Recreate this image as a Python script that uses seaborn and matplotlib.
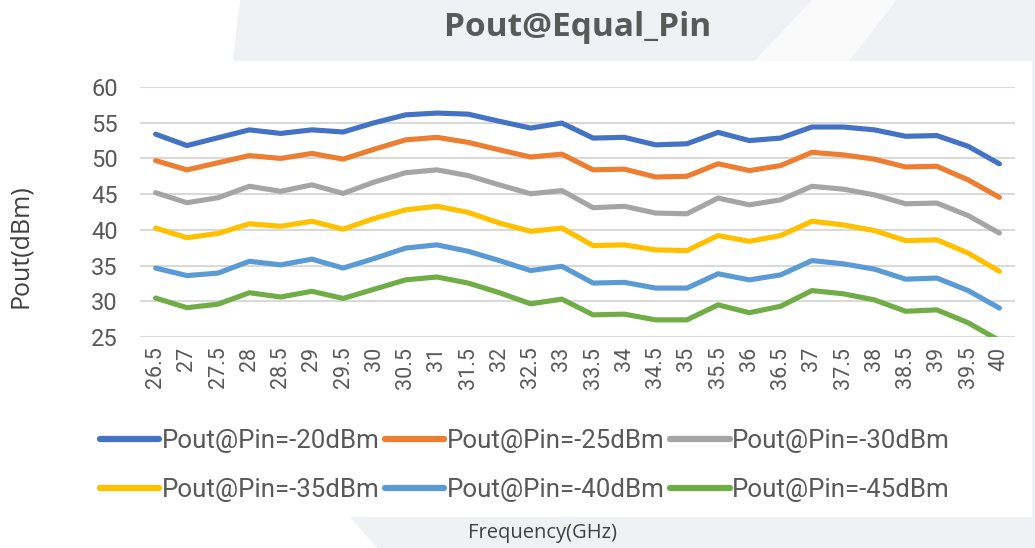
import numpy as np
import pandas as pd
import matplotlib
matplotlib.use("Agg")
import matplotlib.pyplot as plt
from matplotlib.patches import Polygon
import seaborn as sns

freqs = ["26.5", "27", "27.5", "28", "28.5", "29", "29.5", "30", "30.5", "31",
         "31.5", "32", "32.5", "33", "33.5", "34", "34.5", "35", "35.5", "36",
         "36.5", "37", "37.5", "38", "38.5", "39", "39.5", "40"]

pin_20 = [53.4, 51.8, 52.9, 54.0, 53.5, 54.0, 53.7, 55.0, 56.1, 56.35,
          56.2, 55.2, 54.25, 54.95, 52.85, 52.95, 51.9, 52.05, 53.65, 52.5,
          52.85, 54.4, 54.4, 54.0, 53.1, 53.2, 51.7, 49.25]
pin_25 = [49.7, 48.4, 49.4, 50.4, 50.0, 50.7, 49.9, 51.3, 52.6, 52.95,
          52.25, 51.2, 50.2, 50.6, 48.4, 48.5, 47.4, 47.5, 49.25, 48.3,
          49.0, 50.85, 50.5, 49.9, 48.8, 48.9, 47.0, 44.55]
pin_30 = [45.2, 43.8, 44.5, 46.1, 45.4, 46.3, 45.1, 46.7, 48.0, 48.4,
          47.6, 46.3, 45.05, 45.5, 43.1, 43.3, 42.35, 42.25, 44.45, 43.5,
          44.2, 46.1, 45.7, 44.9, 43.65, 43.75, 42.0, 39.55]
pin_35 = [40.25, 38.9, 39.5, 40.85, 40.5, 41.2, 40.1, 41.6, 42.8, 43.3,
          42.45, 40.95, 39.8, 40.25, 37.8, 37.9, 37.2, 37.1, 39.2, 38.4,
          39.2, 41.2, 40.7, 39.9, 38.5, 38.6, 36.75, 34.2]
pin_40 = [34.65, 33.6, 33.95, 35.6, 35.1, 35.9, 34.65, 36.0, 37.45, 37.9,
          37.0, 35.7, 34.3, 34.9, 32.55, 32.65, 31.85, 31.85, 33.85, 33.0,
          33.7, 35.7, 35.25, 34.5, 33.1, 33.25, 31.5, 29.05]
pin_45 = [30.45, 29.1, 29.6, 31.2, 30.6, 31.4, 30.4, 31.7, 33.0, 33.4,
          32.55, 31.2, 29.65, 30.3, 28.1, 28.2, 27.4, 27.4, 29.5, 28.4,
          29.3, 31.5, 31.05, 30.2, 28.6, 28.8, 27.0, 24.5]

series_names = ["Pout@Pin=-20dBm", "Pout@Pin=-25dBm", "Pout@Pin=-30dBm",
                "Pout@Pin=-35dBm", "Pout@Pin=-40dBm", "Pout@Pin=-45dBm"]
series_values = [pin_20, pin_25, pin_30, pin_35, pin_40, pin_45]
colors = ["#4472C4", "#ED7D31", "#A5A5A5", "#FFC000", "#5B9BD5", "#70AD47"]
y_ticks = [25, 30, 35, 40, 45, 50, 55, 60]

rows = []
for name, vals in zip(series_names, series_values):
    for i, v in enumerate(vals):
        rows.append({"idx": i, "Pout": v, "series": name})
df = pd.DataFrame(rows)

sns.set_theme(style="white")
plt.rcParams["font.family"] = ["Roboto", "DejaVu Sans"]

W, H = 1035, 548
fig = plt.figure(figsize=(W / 100, H / 100), dpi=100)
fig.patch.set_facecolor("white")

def fig_poly(pts, color):
    fig.patches.append(Polygon([(x / W, 1 - y / H) for x, y in pts], closed=True,
                               transform=fig.transFigure, facecolor=color,
                               edgecolor="none", zorder=0))

wm = "#f0f1f5"
fig_poly([(240, 0), (1035, 0), (1035, 548), (1032, 548), (1032, 61), (233, 61)], wm)
fig_poly([(812, 0), (897, 0), (849, 61), (754, 61)], "#fafafb")
fig_poly([(350, 517), (1035, 517), (1035, 548), (377, 548)], wm)

ax = fig.add_axes([140 / W, 1 - 337 / H, 875 / W, 250 / H])
ax.set_facecolor("none")

sns.lineplot(data=df, x="idx", y="Pout", hue="series", hue_order=series_names,
             palette=colors, linewidth=3.7, ax=ax, legend=False, sort=False,
             solid_capstyle="round", zorder=3)

ax.set_xlim(-0.5, len(freqs) - 0.5)
ax.set_ylim(25, 60)
ax.set_yticks(y_ticks)
ax.set_yticklabels([str(t) for t in y_ticks], fontsize=17, color="#595959")
ax.set_xticks(range(len(freqs)))
ax.set_xticklabels(freqs, rotation=90, fontsize=15.5, color="#595959")
ax.tick_params(axis="y", length=0, pad=16)
ax.tick_params(axis="x", length=0, pad=7)
ax.grid(axis="y", color="#d9d9d9", linewidth=1.5)
ax.grid(axis="x", visible=False)
for s in ax.spines.values():
    s.set_visible(False)
ax.set_xlabel("")
ax.set_ylabel("")

fig.text(578 / W, 1 - 28 / H, "Pout@Equal_Pin", ha="center", va="center",
         fontsize=24, fontweight="bold", color="#595959", family=["Open Sans", "DejaVu Sans"])
fig.text(20 / W, 1 - 246 / H, "Pout(dBm)", ha="center", va="center", rotation=90,
         fontsize=18, color="#404040", family=["Open Sans", "DejaVu Sans"])
fig.text(543 / W, 1 - 533 / H, "Frequency(GHz)", ha="center", va="center",
         fontsize=14.5, color="#404040", family=["Open Sans", "DejaVu Sans"])

handles = [plt.Line2D([], [], color=c, linewidth=4.5, solid_capstyle="round") for c in colors]
order = [0, 3, 1, 4, 2, 5]
leg = fig.legend([handles[i] for i in order], [series_names[i] for i in order],
                 loc="center left", bbox_to_anchor=(100 / W, 1 - 465.5 / H), ncol=3,
                 frameon=False, prop={"family": "Roboto", "size": 18.6},
                 handlelength=2.3, handletextpad=0.1,
                 columnspacing=0.2, labelspacing=0.98, borderpad=0, borderaxespad=0)
for t in leg.get_texts():
    t.set_color("#595959")

fig.savefig("out.png", dpi=100, facecolor="white")
